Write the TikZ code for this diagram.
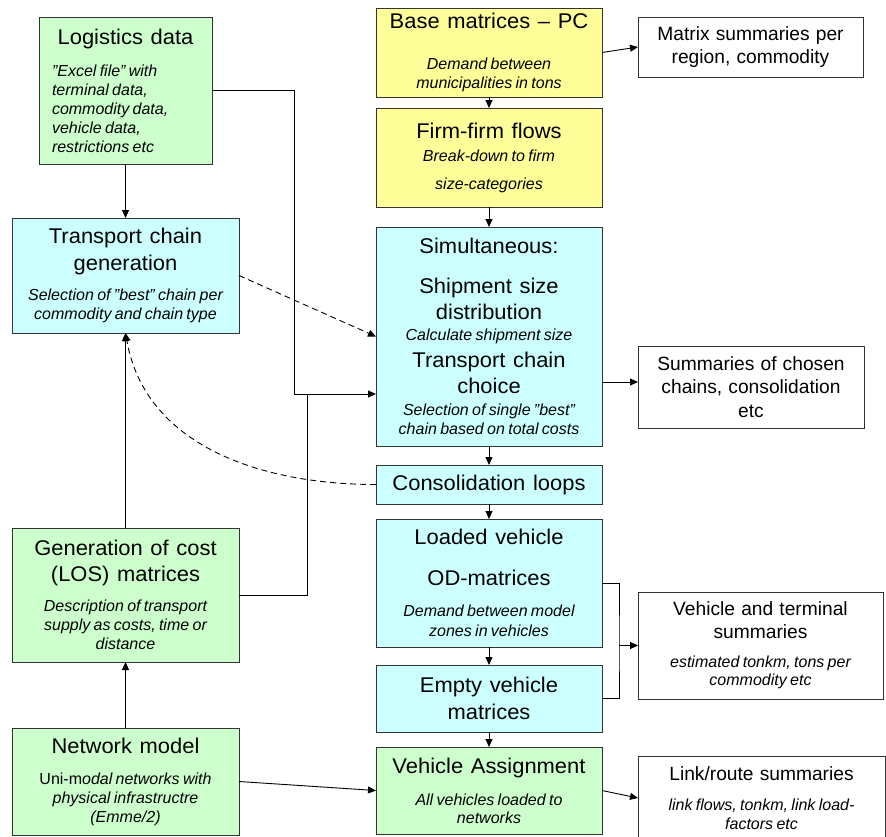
\documentclass[tikz,border=0pt]{standalone}
\usepackage{fontspec}
\setmainfont{Liberation Sans}
\newfontfamily\hdfont[FakeStretch=1.03]{Liberation Sans}
\usetikzlibrary{arrows.meta}

\definecolor{grn}{HTML}{CCFFCC}
\definecolor{ylw}{HTML}{FFFF99}
\definecolor{cyn}{HTML}{CCFFFF}

\newcommand{\hd}[2][0pt]{\vspace{#1}{\hdfont\fontsize{21.3}{26.5}\selectfont\spaceskip=0.36em #2\par}}
\newcommand{\nt}[2][0pt]{\vspace{#1}{\fontsize{16}{19}\selectfont\itshape #2\par}}
\newcommand{\sm}[2][0pt]{\vspace{#1}{\fontsize{19.2}{23.5}\selectfont\spaceskip=0.32em #2\par}}

\tikzset{
  box/.style={draw=black!80, line width=0.9pt, anchor=north west, inner sep=3pt,
    outer sep=0pt, align=center},
  link/.style={line width=0.9pt, draw=black},
  dlink/.style={link, dash pattern=on 6pt off 4pt}
}

\begin{document}
\begin{tikzpicture}[x=1pt,y=-1pt,>={Triangle[length=8pt,width=7pt]}]
\useasboundingbox (0,0) rectangle (886,836);

% left column
\node[box, fill=grn, minimum width=173pt, minimum height=147pt, text width=147pt, align=left] (logi) at (39,17)
  {\hd{\centering Logistics data}\nt[13pt]{”Excel file” with\\ terminal data,\\ commodity data,\\ vehicle data,\\ restrictions etc}};
\node[box, fill=cyn, minimum width=227pt, minimum height=115pt, text width=219pt] (tcg) at (12,218)
  {\hd{Transport chain\\ generation}\nt[11pt]{Selection of ”best” chain per\\ commodity and chain type}};
\node[box, fill=grn, minimum width=227pt, minimum height=134pt, text width=219pt] (gcost) at (12,528)
  {\hd{Generation of cost\\ (LOS) matrices}\nt[11pt]{Description of transport\\ supply as costs, time or\\ distance}};
\node[box, fill=grn, minimum width=227pt, minimum height=107pt, text width=219pt] (netw) at (12,728)
  {\hd{Network model}\nt[12pt]{{\upshape Uni-m}odal networks with\\ physical infrastructre\\ (Emme/2)}};

% middle column
\node[box, fill=ylw, minimum width=226pt, minimum height=89pt, text width=218pt] (base) at (376,8)
  {\hd{Base matrices – PC}\nt[22pt]{Demand between\\ municipalities in tons}};
\node[box, fill=ylw, minimum width=226pt, minimum height=99pt, text width=218pt] (firm) at (376,108)
  {\hd{Firm-firm flows}\nt[4pt]{Break-down to firm\\[9pt] size-categories}};
\node[box, fill=cyn, minimum width=226pt, minimum height=219pt, text width=218pt] (sim) at (376,227)
  {\hd{Simultaneous:}\hd[13.5pt]{Shipment size\\ distribution}\nt[2pt]{Calculate shipment size}%
   \hd{Transport chain\\ choice}\nt[3pt]{Selection of single ”best”\\ chain based on total costs}\vspace{-5pt}};
\node[box, fill=cyn, minimum width=226pt, minimum height=39pt, text width=218pt] (cons) at (376,465)
  {\hd{Consolidation loops}};
\node[box, fill=cyn, minimum width=226pt, minimum height=128pt, text width=218pt] (load) at (376,519)
  {\hd{Loaded vehicle\\[14.5pt] OD-matrices}\nt[12pt]{Demand between model\\[1pt] zones in vehicles}\vspace{-5pt}};
\node[box, fill=cyn, minimum width=226pt, minimum height=67pt, text width=218pt] (empty) at (376,665)
  {\hd{Empty vehicle\\ matrices}};
\node[box, fill=grn, minimum width=226pt, minimum height=87pt, text width=218pt] (vass) at (376,747)
  {\hd{Vehicle Assignment}\nt[13pt]{All vehicles loaded to\\[-1pt] networks}};

% right column
\node[box, minimum width=225pt, minimum height=60pt, text width=217pt] (msum) at (638,17)
  {\sm{Matrix summaries per\\ region, commodity}};
\node[box, minimum width=226pt, minimum height=82pt, text width=218pt] (csum) at (638,346)
  {\sm{Summaries of chosen\\ chains, consolidation\\ etc}\vspace{-5pt}};
\node[box, minimum width=245pt, minimum height=107pt, text width=237pt] (vtsum) at (638,592)
  {\sm{Vehicle and terminal\\[-0.5pt] summaries}\nt[10pt]{estimated tonkm, tons per\\[-1pt] commodity etc}\vspace{-6pt}};
\node[box, minimum width=247pt, minimum height=84pt, text width=239pt] (lsum) at (638,756)
  {\sm{Link/route summaries}\nt[11pt]{link flows, tonkm, link load-\\ factors etc}\vspace{-6pt}};

\coordinate (joint) at (294,394);
\coordinate (merge) at (307,394);
\coordinate (bus) at (619,645.5);

% connectors
\draw[link,->] (logi) -- (tcg);
\draw[link,->] (logi.east) -| (joint) -- (joint -| sim.west);
\draw[link] (gcost.east) -| (merge);
\draw[link,->] (gcost) -- (tcg);
\draw[link,->] (netw) -- (gcost);
\draw[link,->] (netw.east) -- (vass.west);
\draw[dlink,->] (tcg.east) -- (sim.west);
\draw[dlink,->] (cons.west) to[out=180,in=-80] (tcg.south);

\draw[link,->] (base) -- (firm);
\draw[link,->] (firm) -- (sim);
\draw[link,->] (sim) -- (cons);
\draw[link,->] (cons) -- (load);
\draw[link,->] (load) -- (empty);
\draw[link,->] (empty) -- (vass);

\draw[link,->] (base.east) -- (msum.west);
\draw[link,->] ([yshift=5pt]csum.west -| sim.east) -- ([yshift=5pt]csum.west);
\draw[link] (load.east) -| (bus) |- (empty.east);
\draw[link,->] (bus) -- (vtsum.west);
\draw[link,->] (vass.east) -- (lsum.west);
\end{tikzpicture}
\end{document}
